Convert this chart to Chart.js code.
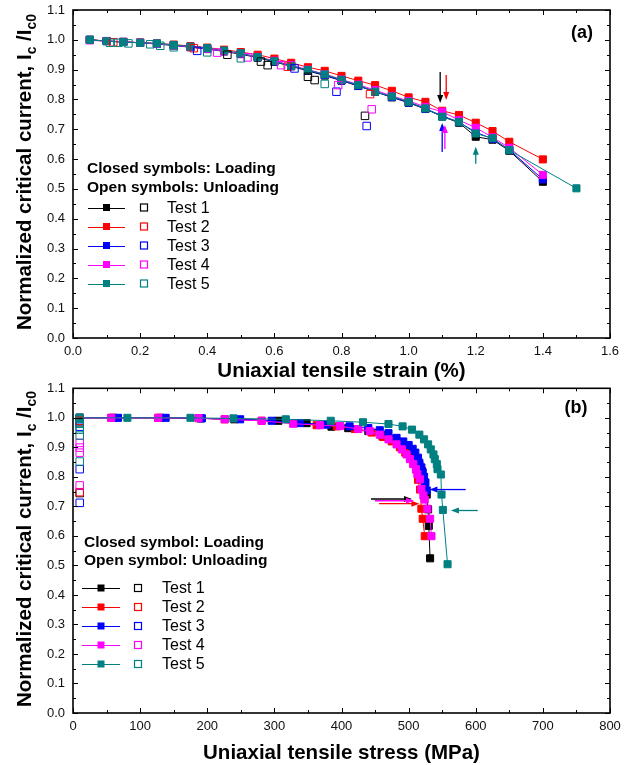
<!DOCTYPE html>
<html><head><meta charset="utf-8">
<script src="https://cdn.jsdelivr.net/npm/chart.js@4.4.1/dist/chart.umd.min.js"></script>
<style>
html,body{margin:0;padding:0;background:#fff;}
#wa{position:absolute;left:0;top:0;width:628px;height:382px;}
#wb{position:absolute;left:0;top:382px;width:628px;height:383px;}
canvas{display:block;}
</style></head><body>
<div id="wa"><canvas id="ca" width="628" height="382"></canvas></div>
<div id="wb"><canvas id="cb" width="628" height="383"></canvas></div>
<script>
const FONT = '"Liberation Sans", Arial, sans-serif';
const testNames = ['Test 1','Test 2','Test 3','Test 4','Test 5'];
const testColors = ['#000000','#ff0000','#0000ff','#ff00ff','#008080'];

// ---------- Panel (a): Ic/Ic0 vs uniaxial tensile strain (%) ----------
const strainLoad = [0.05,0.10,0.15,0.20,0.25,0.30,0.35,0.40,0.45,0.50,0.55,0.60,0.65,0.70,0.75,0.80,0.85,0.90,0.95,1.00,1.05,1.10,1.15,1.20,1.25,1.30,1.40];
const strainLoad5 = [0.05,0.10,0.15,0.20,0.25,0.30,0.35,0.40,0.45,0.50,0.55,0.60,0.65,0.70,0.75,0.80,0.85,0.90,0.95,1.00,1.05,1.10,1.15,1.20,1.25,1.30,1.50];
const icLoadA1 = [1.000,0.996,0.993,0.990,0.986,0.981,0.975,0.969,0.961,0.952,0.940,0.926,0.911,0.896,0.880,0.863,0.845,0.826,0.807,0.789,0.768,0.743,0.722,0.675,0.665,0.628,0.524];
const icLoadA2 = [1.000,0.996,0.993,0.991,0.988,0.984,0.979,0.974,0.967,0.959,0.950,0.937,0.923,0.908,0.896,0.879,0.863,0.848,0.829,0.807,0.792,0.762,0.748,0.722,0.694,0.658,0.599];
const icLoadA3 = [1.000,0.996,0.993,0.990,0.987,0.982,0.976,0.970,0.962,0.954,0.942,0.928,0.913,0.898,0.882,0.864,0.846,0.827,0.808,0.790,0.769,0.745,0.724,0.690,0.668,0.631,0.532];
const icLoadA4 = [0.998,0.996,0.993,0.990,0.987,0.982,0.976,0.970,0.962,0.954,0.943,0.930,0.915,0.900,0.885,0.867,0.850,0.831,0.812,0.795,0.775,0.759,0.731,0.705,0.673,0.638,0.547];
const icLoadA5 = [1.000,0.995,0.992,0.990,0.988,0.983,0.977,0.972,0.964,0.955,0.942,0.928,0.912,0.899,0.884,0.866,0.848,0.826,0.810,0.792,0.770,0.742,0.725,0.686,0.670,0.630,0.502];

const strainUnA1 = [0.46,0.56,0.58,0.70,0.72,0.87];
const icUnA1     = [0.950,0.927,0.915,0.876,0.865,0.745];
const strainUnA2 = [0.12,0.36,0.64,0.885];
const icUnA2     = [0.992,0.972,0.910,0.818];
const strainUnA3 = [0.37,0.66,0.785,0.875];
const icUnA3     = [0.963,0.904,0.826,0.711];
const strainUnA4 = [0.43,0.52,0.62,0.79,0.89];
const icUnA4     = [0.957,0.941,0.915,0.848,0.767];
const strainUnA5 = [0.11,0.135,0.165,0.23,0.26,0.30,0.40,0.50,0.75];
const icUnA5     = [0.990,0.990,0.988,0.985,0.980,0.975,0.958,0.938,0.852];

// arrows (a): x, y start, y end (data units)
const arrowAX  = [1.094,1.112,1.100,1.108,1.200];
const arrowAY1 = [0.892,0.882,0.624,0.634,0.584];
const arrowAY2 = [0.788,0.798,0.721,0.714,0.641];

// ---------- Panel (b): Ic/Ic0 vs uniaxial tensile stress (MPa) ----------
const stressLoadB1 = [10,60,130,190,240,306,348,385,410,440,460,475,488,497,505,511,516,520,524,527,529,530,532];
const icLoadB1     = [1.000,1.000,1.000,0.998,0.995,0.990,0.982,0.970,0.965,0.955,0.940,0.925,0.910,0.893,0.876,0.858,0.840,0.820,0.780,0.740,0.690,0.634,0.524];
const stressLoadB2 = [10,57,127,187,226,281,330,363,393,420,445,462,475,487,495,502,507,511,514,517,519,521,524];
const icLoadB2     = [1.000,1.000,1.000,0.999,0.995,0.990,0.982,0.975,0.971,0.962,0.950,0.935,0.920,0.900,0.882,0.865,0.845,0.825,0.790,0.757,0.692,0.658,0.599];
const stressLoadB3 = [10,67,138,192,249,296,338,378,412,440,457,470,482,492,500,506,510,514,516,519,521,523,525,527];
const icLoadB3     = [1.000,1.000,1.000,0.998,0.995,0.990,0.982,0.977,0.971,0.965,0.958,0.948,0.932,0.920,0.908,0.895,0.882,0.865,0.848,0.832,0.815,0.800,0.781,0.754];
const stressLoadB4 = [10,57,127,187,226,281,328,368,398,425,442,457,470,482,490,497,502,507,511,513,517,519,522,524,528,532,534];
const icLoadB4     = [1.000,1.000,1.000,0.999,0.995,0.990,0.980,0.975,0.972,0.962,0.955,0.943,0.927,0.910,0.893,0.876,0.860,0.843,0.826,0.809,0.792,0.759,0.737,0.723,0.692,0.658,0.599];
const stressLoadB5 = [10,81,175,239,317,384,432,470,491,505,516,523,529,533,537,539,542,543,548,549,551,558];
const icLoadB5     = [1.000,1.000,1.000,0.998,0.995,0.990,0.985,0.979,0.971,0.960,0.943,0.927,0.910,0.893,0.876,0.860,0.843,0.826,0.808,0.740,0.688,0.504];

const stressUnB1 = [10,10];
const icUnB1     = [0.985,0.745];
const stressUnB2 = [10,10];
const icUnB2     = [0.990,0.748];
const stressUnB3 = [10,10,10];
const icUnB3     = [0.970,0.826,0.712];
const stressUnB4 = [10,10,10,10];
const icUnB4     = [0.915,0.899,0.882,0.771];
const stressUnB5 = [10,10,10,10,10,10];
const icUnB5     = [1.000,0.996,0.980,0.960,0.940,0.852];

// arrows (b): x start, x end, y (data units)
const arrowBX1 = [444,456,585,450,603];
const arrowBX2 = [505,516,531,508,563];
const arrowBY  = [0.725,0.709,0.757,0.719,0.686];

// tick labels
const yTicks = [0,0.1,0.2,0.3,0.4,0.5,0.6,0.7,0.8,0.9,1.0,1.1];
const xTicksA = [0,0.2,0.4,0.6,0.8,1.0,1.2,1.4,1.6];
const xTicksB = [0,100,200,300,400,500,600,700,800];

function pts(xs, ys){ return xs.map((x,k)=>({x:x, y:ys[k]})); }

function makeDatasets(loadX, loadY, unX, unY){
  const ds = [];
  for (let i=0;i<5;i++){
    ds.push({label: testNames[i]+' loading', data: pts(loadX[i], loadY[i]), showLine:true,
      borderColor:testColors[i], backgroundColor:testColors[i], borderWidth:1,
      pointStyle:'rect', pointRadius:5, pointHoverRadius:5, pointBorderWidth:1,
      pointBackgroundColor:testColors[i], pointBorderColor:testColors[i], order: 10-i});
    ds.push({label: testNames[i]+' unloading', data: pts(unX[i], unY[i]), showLine:false,
      borderColor:testColors[i], backgroundColor:'rgba(255,255,255,0)', borderWidth:1,
      pointStyle:'rect', pointRadius:5.3, pointHoverRadius:5.3, pointBorderWidth:1,
      pointBackgroundColor:'rgba(255,255,255,0)', pointBorderColor:testColors[i], order: 5-i});
  }
  return ds;
}

function drawArrow(ctx, x1, y1, x2, y2, color){
  const ang = Math.atan2(y2-y1, x2-x1), L = 8, W = 3;
  ctx.strokeStyle = color; ctx.fillStyle = color; ctx.lineWidth = 1.3;
  ctx.beginPath(); ctx.moveTo(x1,y1);
  ctx.lineTo(x2 - Math.cos(ang)*L*0.8, y2 - Math.sin(ang)*L*0.8); ctx.stroke();
  ctx.beginPath();
  ctx.moveTo(x2,y2);
  ctx.lineTo(x2 - L*Math.cos(ang) + W*Math.sin(ang), y2 - L*Math.sin(ang) - W*Math.cos(ang));
  ctx.lineTo(x2 - L*Math.cos(ang) - W*Math.sin(ang), y2 - L*Math.sin(ang) + W*Math.cos(ang));
  ctx.closePath(); ctx.fill();
}

const framePlugin = {
  id:'frame',
  afterDatasetsDraw(chart, args, o){
    const ctx = chart.ctx, a = chart.chartArea, sx = chart.scales.x, sy = chart.scales.y;
    ctx.save();
    ctx.strokeStyle = '#000';
    ctx.lineWidth = 1;
    const tk = (vals, len, horiz) => {
      vals.forEach(v => {
        if (horiz){
          const p = Math.round(sx.getPixelForValue(v)) + 0.5;
          ctx.beginPath(); ctx.moveTo(p, a.bottom); ctx.lineTo(p, a.bottom - len);
          ctx.moveTo(p, a.top); ctx.lineTo(p, a.top + len); ctx.stroke();
        } else {
          const p = Math.round(sy.getPixelForValue(v)) + 0.5;
          ctx.beginPath(); ctx.moveTo(a.left, p); ctx.lineTo(a.left + len, p);
          ctx.moveTo(a.right, p); ctx.lineTo(a.right - len, p); ctx.stroke();
        }
      });
    };
    const xm = o.xTicks, ym = yTicks;
    const xmin = []; for (let i=0;i<xm.length-1;i++) xmin.push((xm[i]+xm[i+1])/2);
    const ymin = []; for (let i=0;i<ym.length-1;i++) ymin.push((ym[i]+ym[i+1])/2);
    tk(xm, 5, true); tk(xmin, 3, true); tk(ym, 5, false); tk(ymin, 3, false);
    ctx.lineWidth = 1.6;
    ctx.strokeRect(a.left, a.top, a.right - a.left, a.bottom - a.top);
    ctx.restore();
  }
};

const textPlugin = {
  id:'texts',
  afterDraw(chart, args, o){
    const ctx = chart.ctx, a = chart.chartArea, sx = chart.scales.x, sy = chart.scales.y;
    ctx.save();
    // arrows
    for (let i=0;i<o.arrows.x1.length;i++){
      drawArrow(ctx, sx.getPixelForValue(o.arrows.x1[i]), sy.getPixelForValue(o.arrows.y1[i]),
        sx.getPixelForValue(o.arrows.x2[i]), sy.getPixelForValue(o.arrows.y2[i]), o.arrows.c[i]);
    }
    ctx.fillStyle = '#000';
    // x title
    ctx.font = 'bold 20.5px ' + FONT;
    ctx.textAlign = 'center'; ctx.textBaseline = 'alphabetic';
    ctx.fillText(o.xTitle, (a.left + a.right)/2, o.xTitleY);
    // panel label
    ctx.font = 'bold 18px ' + FONT;
    ctx.fillText(o.panel, o.panelX, o.panelY);
    // y title with subscripts
    ctx.save();
    ctx.translate(o.yTitleX, o.yTitleY);
    ctx.rotate(-Math.PI/2);
    const segs = [['Normalized critical current, I',0],['c',1],[' /I',0],['c0',1]];
    const mainF = 'bold 20.5px ' + FONT, subF = 'bold 14px ' + FONT;
    let tot = 0;
    segs.forEach(s => { ctx.font = s[1] ? subF : mainF; tot += ctx.measureText(s[0]).width; });
    let cx = -tot/2;
    ctx.textAlign = 'left';
    segs.forEach(s => { ctx.font = s[1] ? subF : mainF; ctx.fillText(s[0], cx, s[1] ? 5 : 0); cx += ctx.measureText(s[0]).width; });
    ctx.restore();
    // legend headers
    const L = o.legend;
    ctx.textAlign = 'left'; ctx.textBaseline = 'middle';
    ctx.font = 'bold 15.5px ' + FONT;
    ctx.fillText(L.h1, L.hx, L.h1y);
    ctx.fillText(L.h2, L.hx, L.h2y);
    ctx.font = '16px ' + FONT;
    for (let i=0;i<5;i++){
      const y = L.rowY[i], c = testColors[i];
      ctx.strokeStyle = c; ctx.lineWidth = 1;
      ctx.beginPath(); ctx.moveTo(L.lx0, Math.round(y)+0.5); ctx.lineTo(L.lx1, Math.round(y)+0.5); ctx.stroke();
      ctx.fillStyle = c; ctx.fillRect(L.fx - 3.5, y - 3.5, 7, 7);
      ctx.strokeStyle = c; ctx.lineWidth = 1.2;
      ctx.strokeRect(L.ox - 3.5, y - 3.5, 7, 7);
      ctx.fillStyle = '#000';
      ctx.fillText(testNames[i], L.tx, y + 1);
    }
    ctx.restore();
  }
};

function makeChart(id, cfg){
  return new Chart(document.getElementById(id), {
    type:'scatter',
    data:{datasets: cfg.datasets},
    options:{
      responsive:false, animation:false, devicePixelRatio:1,
      layout:{padding:{left:0, right:18, top:cfg.padTop, bottom:0}},
      plugins:{legend:{display:false}, tooltip:{enabled:false}, frame:{xTicks:cfg.xTicks}, texts:cfg.texts},
      events:[],
      scales:{
        x:{type:'linear', min:cfg.xTicks[0], max:cfg.xTicks[cfg.xTicks.length-1],
           afterBuildTicks: s => { s.ticks = cfg.xTicks.map(v=>({value:v})); },
           afterFit: s => { s.height = cfg.xH; s.paddingLeft = 0; s.paddingRight = 0; },
           grid:{display:false, drawTicks:false}, border:{display:false},
           ticks:{padding:6, maxRotation:0, autoSkip:false, color:'#111', font:{family:FONT, size:13},
             callback: cfg.xFmt}},
        y:{type:'linear', min:0, max:1.1,
           afterBuildTicks: s => { s.ticks = yTicks.map(v=>({value:v})); },
           afterFit: s => { s.width = 73; s.paddingTop = 0; s.paddingBottom = 0; },
           grid:{display:false, drawTicks:false}, border:{display:false},
           ticks:{padding:8, color:'#111', font:{family:FONT, size:13}, callback: v => v.toFixed(1)}}
      }
    },
    plugins:[framePlugin, textPlugin]
  });
}

makeChart('ca', {
  datasets: makeDatasets([strainLoad,strainLoad,strainLoad,strainLoad,strainLoad5],
    [icLoadA1,icLoadA2,icLoadA3,icLoadA4,icLoadA5],
    [strainUnA1,strainUnA2,strainUnA3,strainUnA4,strainUnA5],
    [icUnA1,icUnA2,icUnA3,icUnA4,icUnA5]),
  xTicks: xTicksA, padTop:10, xH:44,
  xFmt: v => Number(v).toFixed(1),
  texts:{
    xTitle:'Uniaxial tensile strain (%)', xTitleY:377,
    panel:'(a)', panelX:582, panelY:38,
    yTitleX:31, yTitleY:172,
    arrows:{x1:arrowAX, x2:arrowAX, y1:arrowAY1, y2:arrowAY2, c:testColors},
    legend:{h1:'Closed symbols: Loading', h2:'Open symbols: Unloading', hx:87, h1y:169, h2y:188,
      rowY:[207.5,226.5,245.5,264.5,283.5], lx0:88, lx1:125, fx:106.5, ox:144, tx:167}
  }
});

makeChart('cb', {
  datasets: makeDatasets([stressLoadB1,stressLoadB2,stressLoadB3,stressLoadB4,stressLoadB5],
    [icLoadB1,icLoadB2,icLoadB3,icLoadB4,icLoadB5],
    [stressUnB1,stressUnB2,stressUnB3,stressUnB4,stressUnB5],
    [icUnB1,icUnB2,icUnB3,icUnB4,icUnB5]),
  xTicks: xTicksB, padTop:3, xH:52,
  xFmt: v => String(Math.round(v)),
  texts:{
    xTitle:'Uniaxial tensile stress (MPa)', xTitleY:377,
    panel:'(b)', panelX:576, panelY:31,
    yTitleX:31, yTitleY:167,
    arrows:{x1:arrowBX1, x2:arrowBX2, y1:arrowBY, y2:arrowBY, c:['#000000','#ff0000','#0000ff','#ff00ff','#008080']},
    legend:{h1:'Closed symbol: Loading', h2:'Open symbol: Unloading', hx:84, h1y:160.5, h2y:179,
      rowY:[206,225,244,263,282], lx0:82, lx1:120, fx:101, ox:138, tx:162}
  }
});
</script>
</body></html>
